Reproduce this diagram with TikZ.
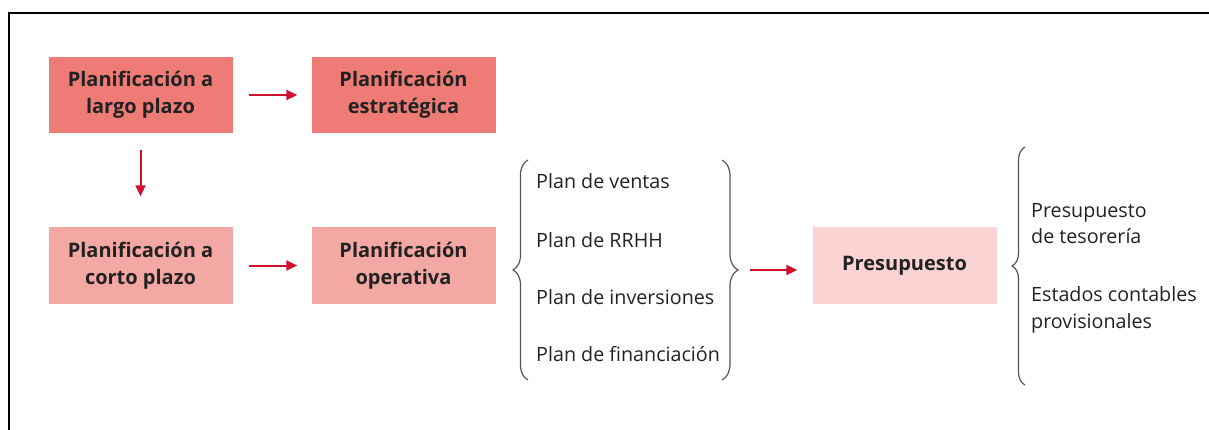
\documentclass[tikz,border=0pt]{standalone}
\usepackage{fontspec}
\setmainfont{Open Sans}
\usetikzlibrary{arrows.meta,decorations.pathreplacing}
\definecolor{boxA}{HTML}{EE7B76}
\definecolor{boxB}{HTML}{F4A8A3}
\definecolor{boxC}{HTML}{FAD3D2}
\definecolor{arr}{HTML}{D0112B}
\definecolor{txt}{HTML}{222222}
\definecolor{brc}{HTML}{555555}
\tikzset{
  pbox/.style={minimum width=184pt, minimum height=76pt, inner sep=0pt, align=center,
    font=\fontsize{20}{27}\selectfont\bfseries, text=txt},
  parrow/.style={draw=arr, line width=2pt, -{Triangle[length=11pt,width=10pt]}},
  ptext/.style={anchor=west, inner sep=0pt, align=left, text=txt, font=\fontsize{19.7}{26.5}\selectfont},
  pbrace/.style={draw=brc, line width=1.2pt, decorate},
}
\begin{document}
\begin{tikzpicture}[x=1pt,y=-1pt]
\useasboundingbox (0,0) rectangle (1209,430);
\draw[line width=2pt] (9,430) -- (9,13) -- (1209,13);
\node[pbox, fill=boxA] (b1) at (140.5,95) {Planificación a\\largo plazo};
\node[pbox, fill=boxA] (b2) at (403.5,95) {Planificación\\estratégica};
\node[pbox, fill=boxB] (b3) at (140.5,265.5) {Planificación a\\corto plazo};
\node[pbox, fill=boxB] (b4) at (403.5,265.5) {Planificación\\operativa};
\node[pbox, fill=boxC] (b5) at (904.5,265.5) {Presupuesto};
\draw[parrow, shorten <=16pt, shorten >=14pt] (b1.east) -- (b2.west);
\draw[parrow, shorten <=17pt, shorten >=31pt] (b1.south) -- (b3.north);
\draw[parrow, shorten <=16pt, shorten >=14pt] (b3.east) -- (b4.west);
\node[ptext] (p1) at (536,181) {Plan de ventas};
\node[ptext] (p2) at (536,240) {Plan de RRHH};
\node[ptext] (p3) at (536,297) {Plan de inversiones};
\node[ptext] (p4) at (536,354) {Plan de financiación};
\draw[pbrace, decoration={brace, amplitude=15pt}] (528,380) -- (528,160);
\draw[pbrace, decoration={brace, amplitude=16pt}] (722,160) -- (722,380);
\coordinate (tip) at (738,270);
\draw[parrow, shorten <=12pt, shorten >=15pt] (tip) -- (b5.west |- tip);
\draw[pbrace, decoration={brace, amplitude=13pt}] (1025,385) -- (1025,147);
\node[ptext] (r1) at (1031,223.5) {Presupuesto\\de tesorería};
\node[ptext] (r2) at (1031,310) {Estados contables\\provisionales};
\end{tikzpicture}
\end{document}
